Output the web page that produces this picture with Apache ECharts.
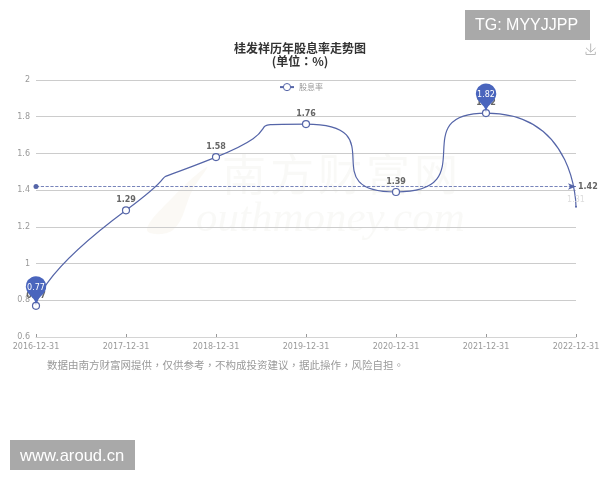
<!DOCTYPE html>
<html><head><meta charset="utf-8">
<style>html,body{margin:0;padding:0;background:#fff}#c{width:600px;height:480px}</style>
<script src="https://cdn.jsdelivr.net/npm/echarts@6/dist/echarts.min.js"></script>
</head><body><div id="c"></div>
<script>
var categories=['2016-12-31','2017-12-31','2018-12-31','2019-12-31','2020-12-31','2021-12-31','2022-12-31'];
var yieldValues=[0.77,1.29,1.58,1.76,1.39,1.82,1.31];
var averageValue=1.42;
var seriesName='股息率';
var titleText='桂发祥历年股息率走势图\n(单位：%)';
var footerText='数据由南方财富网提供，仅供参考，不构成投资建议，据此操作，风险自担。';
var badgeTop='TG: MYYJJPP';
var badgeBottom='www.aroud.cn';
var watermarkChars=['南','方','财','富','网'];
var LAT='"DejaVu Sans"',CJK='"Noto Sans CJK TC","DejaVu Sans"';
var lineColor='#5565a8',pinColor='#4a65bd';
var chart=echarts.init(document.getElementById('c'),null,{renderer:'canvas'});
var wm=watermarkChars.map(function(ch,i){
 return {type:'text',left:222+i*48,top:152,z:0,silent:true,style:{text:ch,fontFamily:CJK,fontSize:44,fill:'rgba(215,210,200,0.14)'}};
});
chart.setOption({
 animation:false,backgroundColor:'#fff',
 title:{text:titleText,left:295,top:37,textAlign:'center',
  textStyle:{fontFamily:CJK,fontSize:12,fontWeight:'bold',color:'#333',lineHeight:13}},
 legend:{data:[seriesName],top:78,left:274,itemWidth:14,itemHeight:9,itemGap:5,itemStyle:{borderWidth:1},
  textStyle:{fontFamily:CJK,fontSize:8,color:'#999'}},
 toolbox:{right:-13,top:26,itemSize:11,feature:{saveAsImage:{title:''}},iconStyle:{borderColor:'#bbb'}},
 grid:{left:36,right:24,top:80,height:257,containLabel:false,outerBoundsMode:'none'},
 xAxis:{type:'category',boundaryGap:false,data:categories,
  axisLine:{lineStyle:{color:'#d4d4d4',width:1}},
  axisTick:{show:true,length:3,inside:true,lineStyle:{color:'#999'}},
  axisLabel:{fontFamily:LAT,fontSize:8,color:'#999',margin:6,interval:0,hideOverlap:false,showMinLabel:true,showMaxLabel:true},splitLine:{show:false}},
 yAxis:{type:'value',min:0.6,max:2,interval:0.2,
  axisLine:{show:false},axisTick:{show:false},
  axisLabel:{fontFamily:LAT,fontSize:8,color:'#999',margin:6},
  splitLine:{lineStyle:{color:'#ccc',width:1}}},
 graphic:wm.concat([
  {type:'polygon',left:147,top:167,z:0,silent:true,shape:{points:[[60,0],[26,30],[0,63],[26,63],[46,22]],smooth:0.4},style:{fill:'rgba(238,230,215,0.25)'}},
  {type:'text',left:196,top:198,z:0,silent:true,style:{text:'outhmoney.com',fontFamily:'"Liberation Serif"',fontStyle:'italic',fontSize:43,fill:'rgba(215,210,200,0.14)'}},
  {type:'text',left:47,top:360,style:{text:footerText,fontFamily:CJK,fontSize:10.5,fill:'#999'}},
  {type:'group',left:465,top:10,children:[
   {type:'rect',shape:{x:0,y:0,width:125,height:30},style:{fill:'#a9a9a9'}},
   {type:'text',x:10,y:8,style:{text:badgeTop,fontFamily:'"Liberation Sans"',fontSize:16,fill:'#fff'}}]},
  {type:'group',left:10,top:440,children:[
   {type:'rect',shape:{x:0,y:0,width:125,height:30},style:{fill:'#a9a9a9'}},
   {type:'text',x:10,y:8,style:{text:badgeBottom,fontFamily:'"Liberation Sans"',fontSize:16.6,fill:'#fff'}}]}
 ]),
 series:[{
  name:seriesName,type:'line',smooth:1,
  data:yieldValues.map(function(v,i){return i===yieldValues.length-1?{value:v,symbolSize:2,symbol:'circle',itemStyle:{color:lineColor,borderWidth:0},label:{color:'#ddd',fontWeight:'normal'}}:v;}),
  symbol:'circle',symbolSize:7,showSymbol:true,
  lineStyle:{color:lineColor,width:1.2},
  itemStyle:{color:'#fff',borderColor:lineColor,borderWidth:1.2},
  label:{show:true,position:'top',distance:2,fontFamily:LAT,fontSize:8,fontWeight:'bold',color:'#666'},
  markPoint:{symbol:'pin',symbolSize:34,itemStyle:{color:pinColor},
   label:{color:'#fff',fontFamily:LAT,fontSize:8},
   data:[{type:'max',name:'最大'},{type:'min',name:'最小'}]},
  markLine:{silent:true,symbol:['circle','arrow'],symbolSize:[5,8],precision:2,
   lineStyle:{color:lineColor,type:'dashed',width:0.8},
   label:{position:'end',distance:2,fontFamily:LAT,fontSize:8,fontWeight:'bold',color:'#666',formatter:String(averageValue)},
   data:[{yAxis:averageValue,name:'平均'}]}
 }]
});
</script></body></html>
